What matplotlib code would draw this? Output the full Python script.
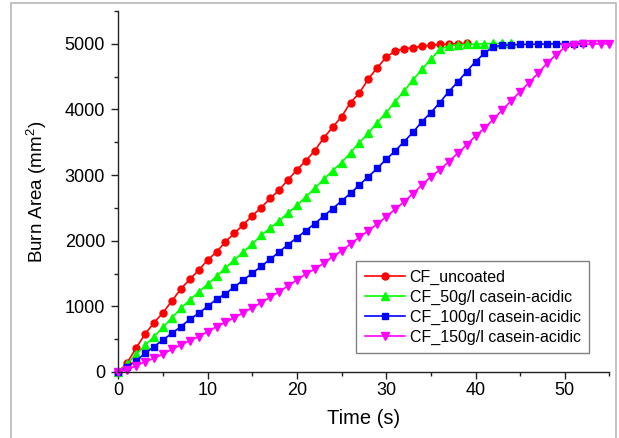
import numpy as np
import matplotlib
matplotlib.use("Agg")
import matplotlib.pyplot as plt
from matplotlib.patches import Rectangle
from matplotlib.ticker import MultipleLocator


# burn area (mm^2) sampled once per second
TIME_STEP = 1.0

uncoated = [
    0, 142, 366, 579, 751, 904, 1082, 1265, 1413, 1550,
    1707, 1829, 1986, 2113, 2245, 2382, 2504, 2645, 2770, 2930,
    3078, 3220, 3373, 3566, 3729, 3891, 4104, 4252, 4465, 4638,
    4796, 4892, 4923, 4943, 4963, 4979, 4990, 4995, 5000, 5005,
]
casein_50 = [
    0, 122, 269, 406, 538, 681, 823, 970, 1097, 1219,
    1336, 1458, 1585, 1707, 1829, 1951, 2083, 2190, 2306, 2418,
    2540, 2667, 2800, 2936, 3068, 3190, 3342, 3495, 3638, 3800,
    3952, 4119, 4282, 4450, 4613, 4765, 4918, 4968, 4985, 4990,
    4995, 5000, 5005, 5005, 5005,
]
casein_100 = [
    0, 81, 172, 285, 386, 488, 590, 691, 803, 894,
    1001, 1108, 1194, 1295, 1402, 1504, 1611, 1717, 1829, 1941,
    2047, 2154, 2260, 2377, 2489, 2606, 2723, 2850, 2977, 3104,
    3241, 3368, 3510, 3653, 3815, 3952, 4104, 4272, 4419, 4577,
    4729, 4857, 4958, 4975, 4985, 4990, 4993, 4995, 4997, 5000,
    5000, 5003, 5005,
]
casein_150 = [
    0, 30, 97, 157, 208, 274, 346, 411, 477, 538,
    615, 691, 757, 828, 904, 980, 1057, 1138, 1224, 1311,
    1402, 1494, 1570, 1656, 1758, 1844, 1951, 2053, 2154, 2256,
    2367, 2479, 2595, 2718, 2850, 2977, 3078, 3205, 3333, 3460,
    3597, 3714, 3851, 3993, 4135, 4272, 4409, 4552, 4704, 4831,
    4948, 4983, 4990, 4995, 5000, 5000,
]

labels = [
    "CF_uncoated",
    "CF_50g/l casein-acidic",
    "CF_100g/l casein-acidic",
    "CF_150g/l casein-acidic",
]
colors = ["#ff0000", "#00ff00", "#0000ff", "#ff00ff"]
markers = ["o", "^", "s", "v"]
marker_sizes = [5.0, 5.5, 4.6, 5.5]

plt.rcParams["font.family"] = ["Liberation Sans", "DejaVu Sans"]
plt.rcParams["mathtext.fontset"] = "custom"
plt.rcParams["mathtext.rm"] = "Liberation Sans"
plt.rcParams["mathtext.it"] = "Liberation Sans:italic"

fig = plt.figure(figsize=(6.19, 4.38), dpi=100)
ax = fig.add_axes([118.3 / 619, 1 - 372 / 438, 491.2 / 619, 361 / 438])

series = [uncoated, casein_50, casein_100, casein_150]
for values, label, color, marker, ms in zip(series, labels, colors, markers, marker_sizes):
    time = np.arange(len(values)) * TIME_STEP
    ax.plot(time, values, color=color, marker=marker, markersize=ms,
            linewidth=1.2, label=label, clip_on=False)

ax.set_xlim(0, 55)
ax.set_ylim(0, 5500)
ax.xaxis.set_major_locator(MultipleLocator(10))
ax.xaxis.set_minor_locator(MultipleLocator(5))
ax.yaxis.set_major_locator(MultipleLocator(1000))
ax.yaxis.set_minor_locator(MultipleLocator(500))

for side in ["top", "right"]:
    ax.spines[side].set_visible(False)
for side in ["left", "bottom"]:
    ax.spines[side].set_linewidth(1.0)
    ax.spines[side].set_color("#222222")

ax.tick_params(which="major", direction="out", length=5, width=1.0,
               labelsize=13, color="#222222")
ax.tick_params(which="minor", direction="out", length=3, width=1.0, color="#222222")
ax.tick_params(axis="x", which="major", pad=2.5)
ax.tick_params(axis="y", which="major", pad=4.5)

ax.set_xlabel("Time (s)", fontsize=14.5)
ax.set_ylabel("Burn Area (mm$^2$)", fontsize=13.5)
ax.xaxis.set_label_coords(0.5, -0.1025)
ax.yaxis.set_label_coords(-0.142, 0.5)

leg = ax.legend(loc="lower left", bbox_to_anchor=(0.484, 0.0518), borderaxespad=0,
                fontsize=11.5, fancybox=False, edgecolor="#808080", framealpha=1,
                handlelength=2.5, handletextpad=0.3, borderpad=0.55, labelspacing=0.3)
leg.get_frame().set_linewidth(1.0)

border = Rectangle((11 / 619, -0.05), 605 / 619, 1.05 - 3 / 438, transform=fig.transFigure,
                   fill=False, edgecolor="#b8b8b8", linewidth=1.2)
fig.patches.append(border)

fig.savefig("out.png", dpi=100)
